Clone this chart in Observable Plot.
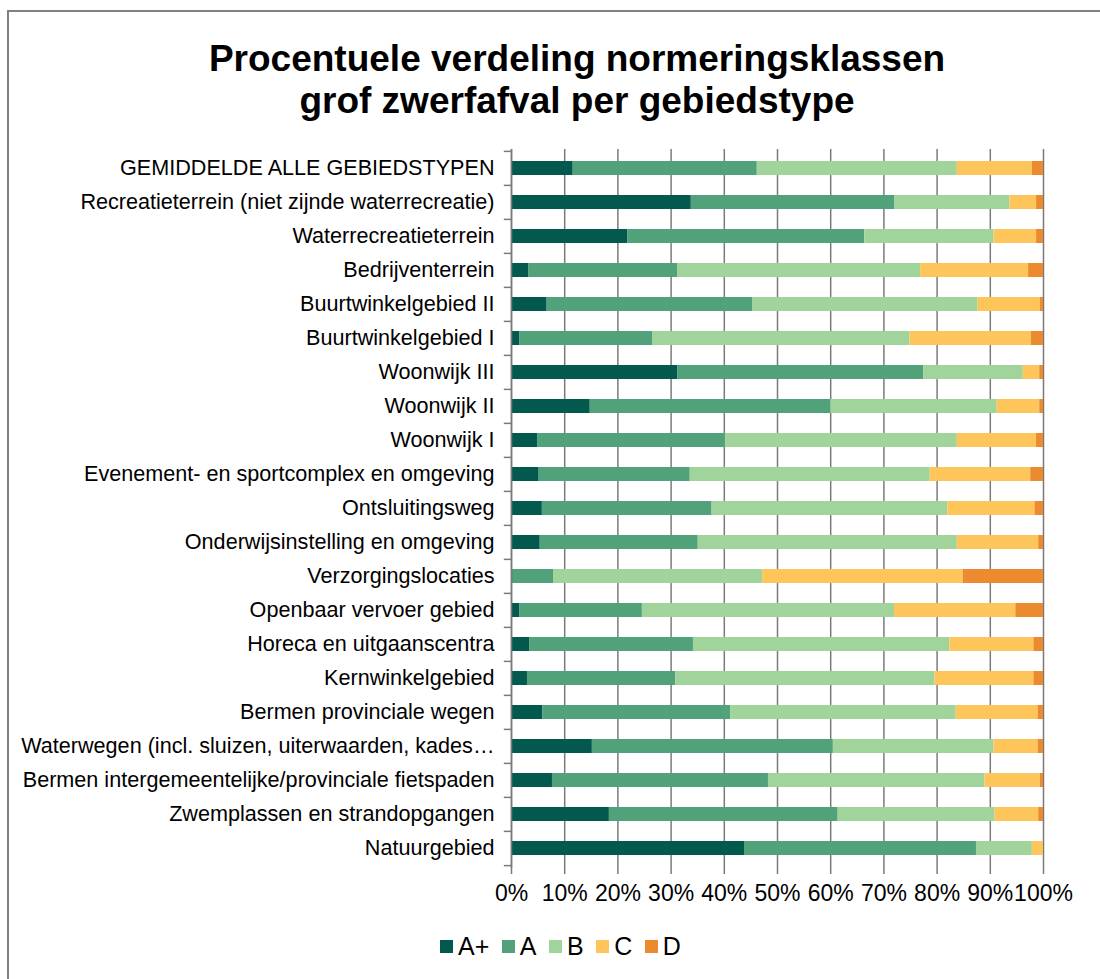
<!DOCTYPE html>
<html>
<head>
<meta charset="utf-8">
<script src="https://cdn.jsdelivr.net/npm/d3@7"></script>
<script src="https://cdn.jsdelivr.net/npm/@observablehq/plot@0.6"></script>
<style>
  html, body { margin: 0; padding: 0; background: #fff; }
  #wrap { position: relative; width: 1100px; height: 979px; overflow: hidden; font-family: "Liberation Sans", Arial, sans-serif; background: #fff; }
  #frame { position: absolute; z-index: 5; pointer-events: none; left: 7px; top: 10px; width: 1200px; height: 1100px; border-left: 2px solid #808080; border-top: 2px solid #808080; }
  #title { position: absolute; left: 0; width: 1154px; top: 38px; text-align: center; font-weight: bold; font-size: 37px; line-height: 42px; color: #000; }
  #chart { position: absolute; left: 0; top: 140px; }
  #legend { position: absolute; top: 931px; left: 440px; display: flex; align-items: center; font-size: 25px; line-height: 30px; color: #000; }
  #legend .item { display: flex; align-items: center; margin-right: 12.5px; }
  #legend .sw { width: 13px; height: 13px; margin-right: 5px; }
</style>
</head>
<body>
<div id="wrap">
  <div id="frame"></div>
  <div id="title">Procentuele verdeling normeringsklassen<br>grof zwerfafval per gebiedstype</div>
  <div id="chart"></div>
  <div id="legend"></div>
</div>
<script>
const categories = [
  "GEMIDDELDE ALLE GEBIEDSTYPEN",
  "Recreatieterrein (niet zijnde waterrecreatie)",
  "Waterrecreatieterrein",
  "Bedrijventerrein",
  "Buurtwinkelgebied II",
  "Buurtwinkelgebied I",
  "Woonwijk III",
  "Woonwijk II",
  "Woonwijk I",
  "Evenement- en sportcomplex en omgeving",
  "Ontsluitingsweg",
  "Onderwijsinstelling en omgeving",
  "Verzorgingslocaties",
  "Openbaar vervoer gebied",
  "Horeca en uitgaanscentra",
  "Kernwinkelgebied",
  "Bermen provinciale wegen",
  "Waterwegen (incl. sluizen, uiterwaarden, kades…",
  "Bermen intergemeentelijke/provinciale fietspaden",
  "Zwemplassen en strandopgangen",
  "Natuurgebied"
];
const classes = ["A+", "A", "B", "C", "D"];
const classColors = ["#03594d", "#51a27a", "#a1d49b", "#fec65a", "#eb8a2e"];

const valuesAplus = [11.6, 33.8, 21.9, 3.3, 6.7, 1.6, 31.3, 14.8, 4.9, 5.2, 5.8, 5.4, 0.3, 1.6, 3.4, 3.0, 5.9, 15.2, 7.7, 18.4, 43.8];
const valuesA     = [34.6, 38.2, 44.5, 28.0, 38.7, 25.0, 46.2, 45.2, 35.3, 28.4, 31.9, 29.7, 7.6, 23.0, 30.8, 27.9, 35.3, 45.3, 40.6, 43.0, 43.6];
const valuesB     = [37.6, 21.7, 24.3, 45.6, 42.3, 48.3, 18.7, 31.3, 43.6, 45.1, 44.3, 48.7, 39.3, 47.4, 48.2, 48.7, 42.4, 30.2, 40.7, 29.5, 10.5];
const valuesC     = [14.1, 5.0, 8.0, 20.3, 11.7, 22.8, 3.1, 8.0, 14.9, 18.9, 16.4, 15.3, 37.7, 22.8, 15.8, 18.6, 15.4, 8.3, 10.4, 8.2, 2.1];
const valuesD     = [2.1, 1.3, 1.3, 2.8, 0.6, 2.3, 0.7, 0.7, 1.3, 2.4, 1.6, 0.9, 15.1, 5.2, 1.8, 1.8, 1.0, 1.0, 0.6, 0.9, 0.0];
const xTicks = [0, 10, 20, 30, 40, 50, 60, 70, 80, 90, 100];

const series = [valuesAplus, valuesA, valuesB, valuesC, valuesD];
const data = [];
categories.forEach((cat, i) => {
  classes.forEach((k, j) => data.push({category: cat, klasse: k, value: series[j][i]}));
});

const W = 1100, H = 780, mTop = 9, mBottom = 52, mLeft = 511, mRight = 57;
const step = (H - mTop - mBottom) / categories.length;
const gray = "#7a7a7a";

const chart = Plot.plot({
  width: W, height: H,
  marginTop: mTop, marginBottom: mBottom, marginLeft: mLeft, marginRight: mRight,
  style: {fontFamily: "'Liberation Sans', Arial, sans-serif", color: "#000", background: "transparent"},
  x: {domain: [0, 100], ticks: xTicks},
  y: {domain: categories, paddingInner: 0.58, paddingOuter: 0.29},
  color: {domain: classes, range: classColors},
  marks: [
    Plot.gridX(xTicks, {stroke: gray, strokeOpacity: 1, strokeWidth: 1.5}),
    Plot.barX(data, Plot.stackX({x: "value", y: "category", fill: "klasse", order: classes})),
    Plot.ruleX([0], {stroke: gray, strokeWidth: 1.5}),
    Plot.ruleY(categories, {y: d => d, x1: -1.35, x2: 0, dy: -step / 2, stroke: gray, strokeWidth: 1.5}),
    Plot.ruleY(categories.slice(-1), {y: d => d, x1: -1.35, x2: 0, dy: step / 2, stroke: gray, strokeWidth: 1.5}),
    Plot.axisX(xTicks, {tickSize: 6, tickPadding: 10, stroke: gray, strokeWidth: 1.5, tickFormat: d => d + "%", fontSize: 23, fill: "#000", label: null}),
    Plot.axisY({tickSize: 0, tickPadding: 17, fontSize: 21.6, fill: "#000", label: null})
  ]
});
document.getElementById("chart").appendChild(chart);

const legend = document.getElementById("legend");
classes.forEach((k, j) => {
  const item = document.createElement("div");
  item.className = "item";
  const sw = document.createElement("div");
  sw.className = "sw";
  sw.style.background = classColors[j];
  const lab = document.createElement("span");
  lab.textContent = k;
  item.appendChild(sw);
  item.appendChild(lab);
  legend.appendChild(item);
});
</script>
</body>
</html>
